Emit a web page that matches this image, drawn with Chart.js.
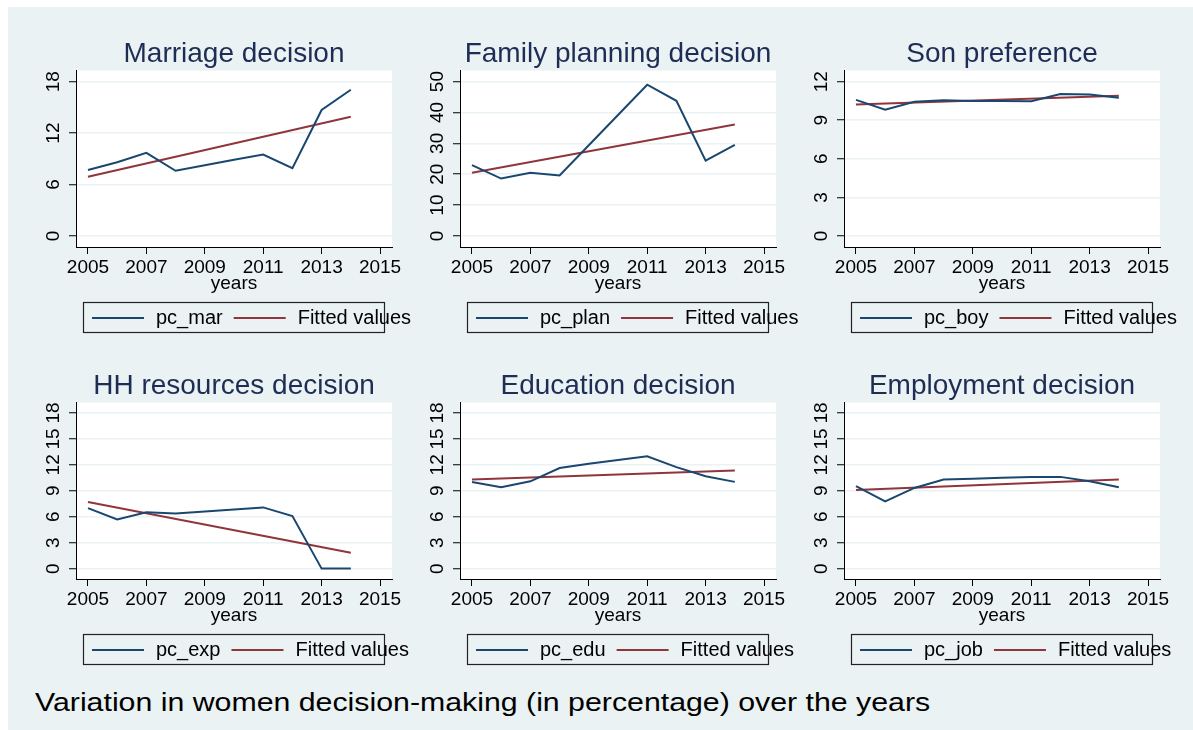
<!DOCTYPE html>
<html>
<head>
<meta charset="utf-8">
<script src="https://cdn.jsdelivr.net/npm/chart.js@4"></script>
<style>
  html, body { margin: 0; padding: 0; background: #fff; width: 1193px; height: 730px; overflow: hidden; }
  #bg { position: absolute; left: 8px; top: 7px; width: 1185px; height: 723px; background: #EAF2F3; }
  canvas { position: absolute; }
  #note { position: absolute; left: 35px; top: 689px; font: 26px "Liberation Sans", Arial, sans-serif; line-height: 26px; color: #000; white-space: nowrap; transform: scaleX(1.165); transform-origin: left center; }
</style>
</head>
<body>
<div id="bg"></div>
<canvas id="c0" width="420" height="340" style="left:8px;top:0px"></canvas>
<canvas id="c1" width="420" height="340" style="left:392px;top:0px"></canvas>
<canvas id="c2" width="420" height="340" style="left:776px;top:0px"></canvas>
<canvas id="c3" width="420" height="340" style="left:8px;top:332px"></canvas>
<canvas id="c4" width="420" height="340" style="left:392px;top:332px"></canvas>
<canvas id="c5" width="420" height="340" style="left:776px;top:332px"></canvas>
<div id="note">Variation in women decision-making (in percentage) over the years</div>
<script>
// data
const years = [2005, 2006, 2007, 2008, 2009, 2010, 2011, 2012, 2013, 2014];
const fitYears = [2005, 2014];
const xTicks = [2005, 2007, 2009, 2011, 2013, 2015];

const pcMar = [7.7, 8.6, 9.7, 7.6, 8.25, 8.9, 9.5, 7.9, 14.7, 17.05];
const fitMar = [6.9, 13.9];
const pcPlan = [22.95, 18.6, 20.45, 19.6, 29.4, 39.2, 49.0, 43.8, 24.4, 29.5];
const fitPlan = [20.5, 36.1];
const pcBoy = [10.58, 9.82, 10.44, 10.55, 10.5, 10.5, 10.48, 11.04, 11.0, 10.75];
const fitBoy = [10.23, 10.91];
const pcExp = [7.0, 5.68, 6.53, 6.38, 6.6, 6.85, 7.08, 6.07, 0, 0];
const fitExp = [7.7, 1.83];
const pcEdu = [10.03, 9.41, 10.1, 11.63, 12.13, 12.56, 12.99, 11.74, 10.69, 10.03];
const fitEdu = [10.3, 11.35];
const pcJob = [9.53, 7.78, 9.33, 10.3, 10.4, 10.5, 10.61, 10.61, 10.1, 9.41];
const fitJob = [9.1, 10.3];

const ticksMar = [0, 6, 12, 18];
const ticksPlan = [0, 10, 20, 30, 40, 50];
const ticksBoy = [0, 3, 6, 9, 12];
const ticks18 = [0, 3, 6, 9, 12, 15, 18];

const FONT = '"Liberation Sans", Arial, sans-serif';
const BLUE = '#1A476F';
const RED = '#90353B';

const plotBg = {
  id: 'plotBg',
  beforeDraw(chart) {
    const { ctx, chartArea: a } = chart;
    ctx.save();
    ctx.fillStyle = '#fff';
    ctx.fillRect(a.left, a.top, a.right - a.left, a.bottom - a.top);
    ctx.restore();
  }
};

// stata style legend: box under the axis title, text may run past the box
const boxLegend = {
  id: 'boxLegend',
  afterDraw(chart) {
    const { ctx, chartArea: a } = chart;
    const top = a.bottom + 55, h = 30;
    ctx.save();
    ctx.strokeStyle = '#222';
    ctx.lineWidth = 1.2;
    ctx.strokeRect(a.left + 7.5, top + 0.5, a.right - a.left - 15, h);
    ctx.font = '20px ' + FONT;
    ctx.textBaseline = 'middle';
    ctx.fillStyle = '#000';
    const y = top + h / 2 + 1;
    let x = a.left + 16;
    chart.data.datasets.forEach(ds => {
      ctx.strokeStyle = ds.borderColor;
      ctx.lineWidth = 2;
      ctx.beginPath();
      ctx.moveTo(x, y);
      ctx.lineTo(x + 52, y);
      ctx.stroke();
      x += 52 + 12;
      ctx.fillText(ds.label, x, y);
      x += ctx.measureText(ds.label).width + 11;
    });
    ctx.restore();
  }
};

function panel(id, title, name, values, fit, yTicks, yMin, yMax) {
  return new Chart(document.getElementById(id), {
    type: 'line',
    data: {
      datasets: [
        {
          label: name,
          data: years.map((y, i) => ({ x: y, y: values[i] })),
          borderColor: BLUE,
          borderWidth: 2,
          pointRadius: 0,
          tension: 0,
        },
        {
          label: 'Fitted values',
          data: fitYears.map((y, i) => ({ x: y, y: fit[i] })),
          borderColor: RED,
          borderWidth: 2,
          pointRadius: 0,
          tension: 0,
        },
      ],
    },
    options: {
      responsive: false,
      animation: false,
      layout: { padding: { left: 0, right: 36, top: 0, bottom: 47 } },
      plugins: {
        legend: { display: false },
        tooltip: { enabled: false },
        title: {
          display: true,
          text: title,
          fullSize: false,
          color: '#1E2D55',
          font: { family: FONT, size: 28, weight: 'normal' },
          padding: { top: 37, bottom: 0 },
        },
      },
      scales: {
        x: {
          type: 'linear',
          min: 2004.59,
          max: 2015.41,
          afterBuildTicks: s => { s.ticks = xTicks.map(v => ({ value: v })); },
          grid: { drawOnChartArea: false, drawTicks: true, tickLength: 7, tickColor: '#000', tickWidth: 1 },
          border: { color: '#000', width: 1 },
          ticks: {
            color: '#000',
            padding: 4,
            autoSkip: false,
            maxRotation: 0,
            font: { family: FONT, size: 19, lineHeight: 1 },
            callback: v => String(v),
          },
          title: {
            display: true,
            text: 'years',
            color: '#000',
            font: { family: FONT, size: 19, lineHeight: 1 },
            padding: { top: -7, bottom: 0 },
          },
        },
        y: {
          type: 'linear',
          min: yMin,
          max: yMax,
          afterBuildTicks: s => { s.ticks = yTicks.map(v => ({ value: v })); },
          afterFit: s => { s.width = 68; },
          grid: { color: '#EAF2F3', lineWidth: 1.5, drawTicks: true, tickLength: 7, tickColor: '#000', tickWidth: 1 },
          border: { color: '#000', width: 1 },
          ticks: {
            color: '#000',
            padding: 5,
            autoSkip: false,
            minRotation: 90,
            maxRotation: 90,
            crossAlign: 'center',
            font: { family: FONT, size: 19 },
            callback: v => String(v),
          },
        },
      },
    },
    plugins: [plotBg, boxLegend],
  });
}

panel('c0', 'Marriage decision', 'pc_mar', pcMar, fitMar, ticksMar, -1.29, 19.29);
panel('c1', 'Family planning decision', 'pc_plan', pcPlan, fitPlan, ticksPlan, -3.57, 53.57);
panel('c2', 'Son preference', 'pc_boy', pcBoy, fitBoy, ticksBoy, -0.86, 12.86);
panel('c3', 'HH resources decision', 'pc_exp', pcExp, fitExp, ticks18, -1.2, 19.2);
panel('c4', 'Education decision', 'pc_edu', pcEdu, fitEdu, ticks18, -1.2, 19.2);
panel('c5', 'Employment decision', 'pc_job', pcJob, fitJob, ticks18, -1.2, 19.2);
</script>
</body>
</html>
